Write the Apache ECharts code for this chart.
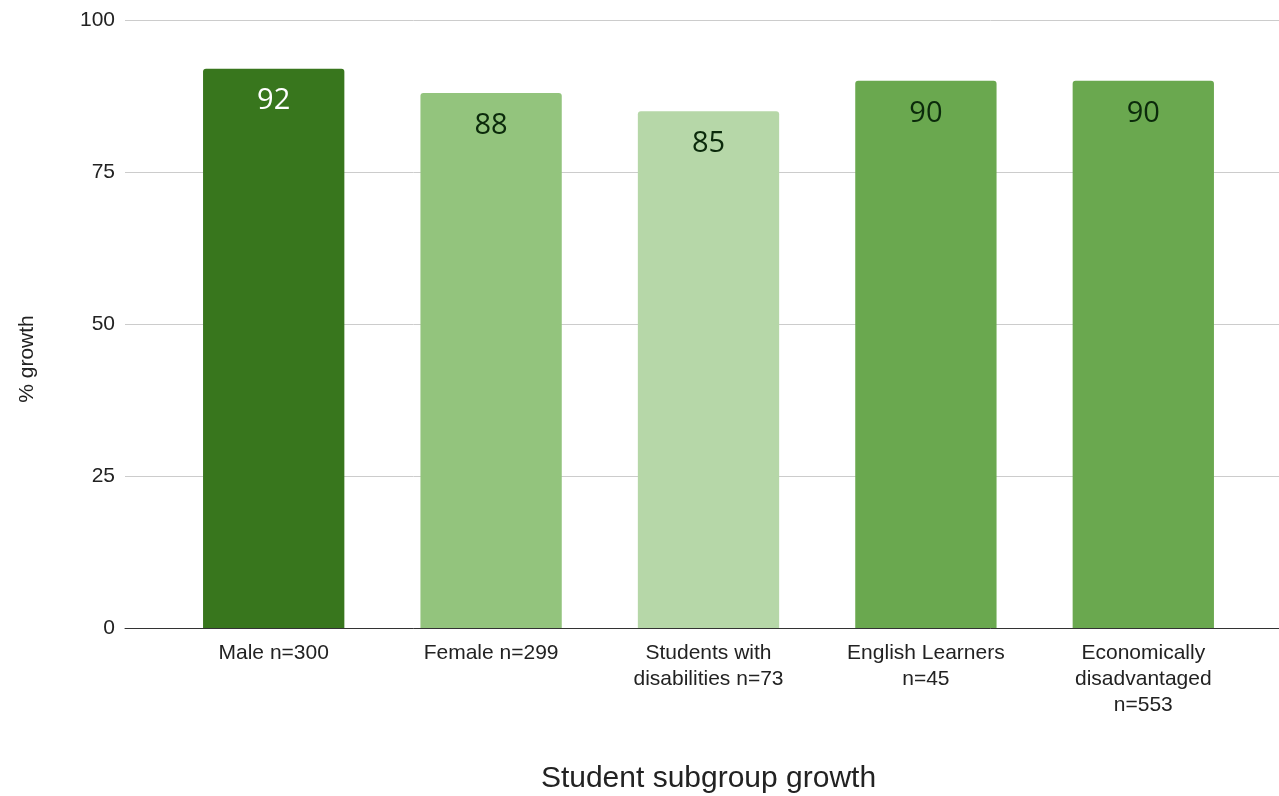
<!DOCTYPE html>
<html><head><meta charset="utf-8">
<script src="https://cdn.jsdelivr.net/npm/echarts@6/dist/echarts.min.js"></script>
<style>html,body{margin:0;padding:0;background:#fff}#c{width:1279px;height:796px}</style>
</head><body><div id="c"></div>
<script>
const categories = ["Male n=300", "Female n=299", "Students with\ndisabilities n=73", "English Learners\nn=45", "Economically\ndisadvantaged\nn=553"];
const values = [92, 88, 85, 90, 90];
const barColors = ["#38761d", "#93c47d", "#b6d7a8", "#6aa84f", "#6aa84f"];
const labelColors = ["#ffffff", "#0b2a0b", "#0b2a0b", "#0b2a0b", "#0b2a0b"];
const yTicks = [0, 25, 50, 75, 100];
const xAxisTitle = "Student subgroup growth";
const yAxisTitle = "% growth";

const chart = echarts.init(document.getElementById('c'), null, {renderer: 'canvas'});
const font = '"Liberation Sans", Arial, sans-serif';
chart.setOption({
  animation: false,
  graphic: [{
    type: 'text', x: 27, y: 359, rotation: Math.PI / 2,
    style: {text: yAxisTitle, font: '21px "Liberation Sans", Arial, sans-serif', fill: '#222', align: 'center', verticalAlign: 'middle'}
  }],
  grid: [
    {left: 125, right: 0, top: 20, bottom: 168, outerBoundsMode: 'none', containLabel: false},
    {left: 165, right: 27, top: 20, bottom: 168, outerBoundsMode: 'none', containLabel: false}
  ],
  xAxis: [
    {gridIndex: 0, type: 'category', data: [''], axisLine: {lineStyle: {color: '#333', width: 1}}, axisTick: {show: false}, axisLabel: {show: false}},
    {gridIndex: 1, type: 'category', data: categories, axisLine: {show: false}, axisTick: {show: false},
      axisLabel: {fontFamily: font, fontSize: 21, color: '#222', lineHeight: 26, margin: 12, interval: 0},
      name: xAxisTitle, nameLocation: 'middle', nameGap: 136,
      nameTextStyle: {fontFamily: font, fontSize: 30, color: '#222'}}
  ],
  yAxis: [
    {gridIndex: 0, type: 'value', min: 0, max: 100, interval: 25,
      axisLine: {show: false}, axisTick: {show: false},
      axisLabel: {fontFamily: font, fontSize: 21, color: '#222', margin: 10, formatter: v => yTicks.includes(v) ? String(v) : ''},
      splitLine: {lineStyle: {color: '#cccccc', width: 1}}},
    {gridIndex: 1, type: 'value', min: 0, max: 100, interval: 25, show: false}
  ],
  series: [{
    type: 'bar', xAxisIndex: 1, yAxisIndex: 1,
    barCategoryGap: '35%',
    data: values.map((v, i) => ({
      value: v,
      itemStyle: {color: barColors[i], borderRadius: [3, 3, 0, 0]},
      label: {color: labelColors[i]}
    })),
    label: {show: true, position: 'insideTop', distance: 18, fontFamily: '"Open Sans", sans-serif', fontSize: 29}
  }]
});
</script></body></html>
